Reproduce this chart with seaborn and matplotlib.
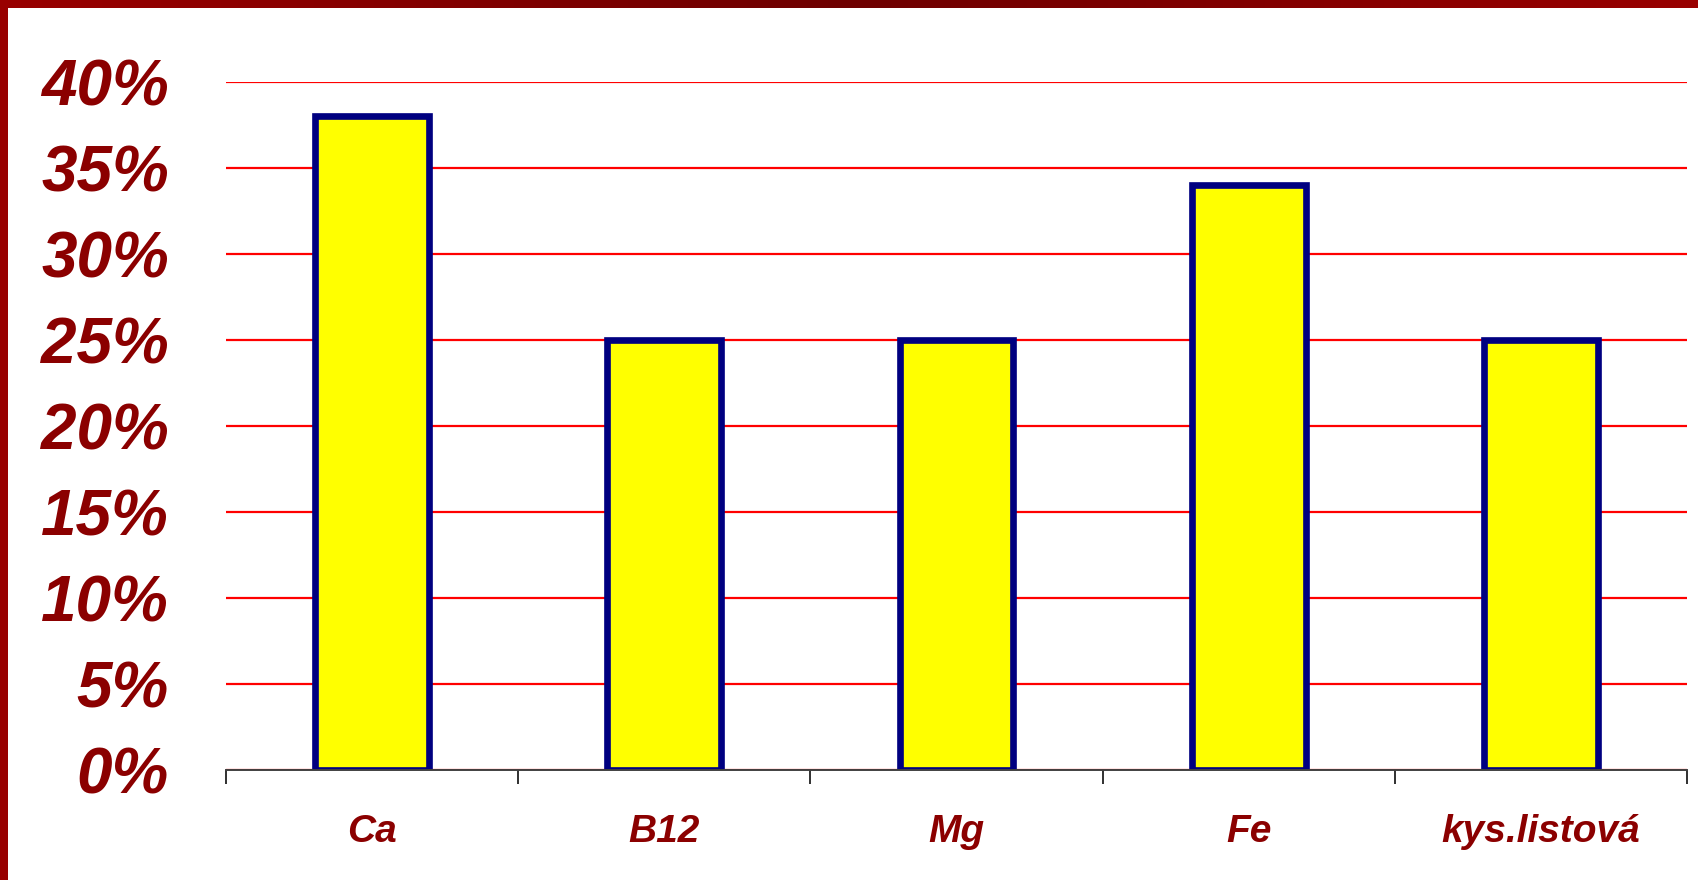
import numpy as np
import pandas as pd
import seaborn as sns
import matplotlib.pyplot as plt

# data
categories = ['Ca', 'B12', 'Mg', 'Fe', 'kys.listová']
values = [38, 25, 25, 34, 25]
y_ticks = [0, 5, 10, 15, 20, 25, 30, 35, 40]
y_labels = [f'{t}%' for t in y_ticks]

df = pd.DataFrame({'item': categories, 'pct': values})

sns.set_style('white')
plt.rcParams['font.family'] = ['Liberation Sans', 'DejaVu Sans']

dark_red = '#8B0000'

fig = plt.figure(figsize=(16.98, 8.8), dpi=100)
ax = fig.add_axes([0.1331, 0.125, 0.8604, 0.7818])

sns.barplot(data=df, x='item', y='pct', order=categories, width=0.39,
            color='#FFFF00', edgecolor='#000080', linewidth=4.8,
            saturation=1, ax=ax)

ax.set_ylim(0, 40)
ax.set_xlim(-0.5, len(categories) - 0.5)
ax.set_yticks(y_ticks, labels=y_labels)
ax.yaxis.grid(True, color='#FF0000', linewidth=1.6)
ax.set_axisbelow(True)

# tick marks between categories, labels in the middle
ax.set_xticks(np.arange(-0.5, len(categories)), labels=[])
ax.set_xticks(range(len(categories)), labels=categories, minor=True)
ax.tick_params(axis='x', which='major', direction='out', length=10,
               width=1.4, color='#303030', bottom=True)
ax.tick_params(axis='x', which='minor', length=0, pad=32)
ax.tick_params(axis='y', length=0, pad=41)

for lab in ax.get_yticklabels():
    lab.set_fontsize(46)
    lab.set_fontweight('bold')
    lab.set_fontstyle('italic')
    lab.set_color(dark_red)
for lab in ax.get_xticklabels(minor=True):
    lab.set_fontsize(28)
    lab.set_fontweight('bold')
    lab.set_fontstyle('italic')
    lab.set_color(dark_red)

for side in ['left', 'right', 'top']:
    ax.spines[side].set_visible(False)
ax.spines['bottom'].set_color('#404040')
ax.spines['bottom'].set_linewidth(1.4)
ax.spines['bottom'].set_zorder(1)
ax.set_xlabel('')
ax.set_ylabel('')

# dark red frame at the top and on the left
top_band = fig.add_axes([0, 1 - 8 / 880, 1, 8 / 880])
grad = np.abs(np.linspace(-1, 1, 400))[None, :]
top_band.imshow(grad, aspect='auto', cmap=sns.blend_palette(['#6E0000', '#990000'], as_cmap=True))
top_band.axis('off')
left_band = fig.add_axes([0, 0, 8 / 1698, 1])
left_band.set_facecolor('#990000')
left_band.set_xticks([])
left_band.set_yticks([])
for s in left_band.spines.values():
    s.set_visible(False)

fig.savefig('out.png', dpi=100)
